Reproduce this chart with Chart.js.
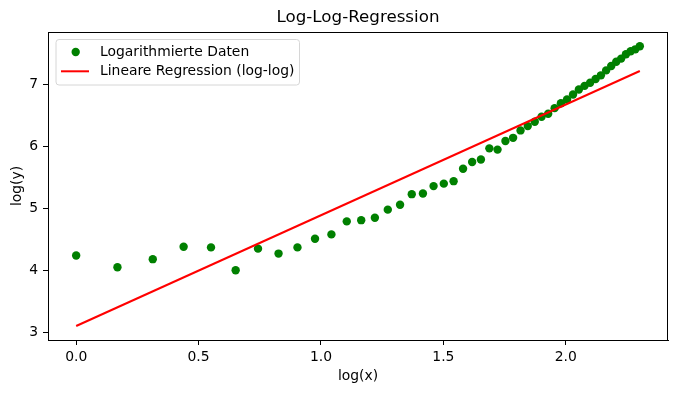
<!DOCTYPE html>
<html>
	<head>
		<meta charset="utf-8">
		<script src="https://cdn.jsdelivr.net/npm/chart.js@4.4.1/dist/chart.umd.min.js"></script>
		<style>
			html, body { margin: 0; padding: 0; background: #fff; }
			#container { width: 678px; height: 393px; }
		</style>
	</head>
	<body>
		<div id="container">
			<canvas id="myChart" width="678" height="393"></canvas>
		</div>
		<script>
			// log(x) values of the data
			var logX = [0, 0.1686, 0.3129, 0.4389, 0.5508, 0.6515, 0.7429, 0.8267, 0.9040, 0.9757,
				1.0427, 1.1054, 1.1644, 1.2202, 1.2730, 1.3231, 1.3709, 1.4165, 1.4600, 1.5018,
				1.5419, 1.5805, 1.6176, 1.6534, 1.6879, 1.7213, 1.7536, 1.7849, 1.8153, 1.8448,
				1.8734, 1.9012, 1.9283, 1.9546, 1.9803, 2.0053, 2.0298, 2.0536, 2.0769, 2.0996,
				2.1219, 2.1437, 2.1650, 2.1858, 2.2063, 2.2263, 2.2459, 2.2652, 2.2841, 2.3026];
			// log(y) values of the data
			var logY = [4.24, 4.05, 4.18, 4.38, 4.37, 4.00, 4.35, 4.27, 4.37, 4.51,
				4.58, 4.79, 4.81, 4.85, 4.98, 5.06, 5.23, 5.24, 5.36, 5.40,
				5.44, 5.64, 5.75, 5.79, 5.97, 5.95, 6.09, 6.14, 6.26, 6.33,
				6.40, 6.48, 6.53, 6.62, 6.70, 6.76, 6.84, 6.92, 6.98, 7.03,
				7.09, 7.15, 7.23, 7.30, 7.37, 7.42, 7.49, 7.54, 7.57, 7.62];
			// regression line end points
			var regX = [0, 2.3026];
			var regY = [3.10, 7.22];

			var xTicks = [0, 0.5, 1.0, 1.5, 2.0];
			var yTicks = [3, 4, 5, 6, 7];

			var FONT = "'DejaVu Sans', sans-serif";

			function toPoints(xs, ys) {
				var pts = [];
				for (var i = 0; i < xs.length; i++) pts.push({x: xs[i], y: ys[i]});
				return pts;
			}

			// frame, title, axis labels, legend (matplotlib look)
			var decorPlugin = {
				id: 'decor',
				afterDraw: function(chart) {
					var ctx = chart.ctx;
					var a = chart.chartArea;
					ctx.save();
					ctx.strokeStyle = '#000';
					ctx.lineWidth = 1;
					ctx.strokeRect(a.left + 0.5, a.top + 0.5, a.right - a.left - 1, a.bottom - a.top);

					ctx.fillStyle = '#000';
					ctx.textAlign = 'center';
					ctx.textBaseline = 'middle';
					ctx.font = '16.7px ' + FONT;
					ctx.fillText('Log-Log-Regression', (a.left + a.right) / 2, 18);

					ctx.font = '13.9px ' + FONT;
					ctx.fillText('log(x)', (a.left + a.right) / 2, 376);
					ctx.save();
					ctx.translate(17, (a.top + a.bottom) / 2);
					ctx.rotate(-Math.PI / 2);
					ctx.fillText('log(y)', 0, 0);
					ctx.restore();

					// legend
					var lx = 56, ly = 39.5, lw = 243.5, lh = 45.5;
					ctx.beginPath();
					ctx.roundRect(lx, ly, lw, lh, 3);
					ctx.fillStyle = 'rgba(255,255,255,0.8)';
					ctx.fill();
					ctx.strokeStyle = '#d6d6d6';
					ctx.stroke();

					var ds = chart.data.datasets;
					ctx.beginPath();
					ctx.arc(75.7, 52, 4.2, 0, Math.PI * 2);
					ctx.fillStyle = ds[0].backgroundColor;
					ctx.fill();

					ctx.beginPath();
					ctx.moveTo(61, 71.3);
					ctx.lineTo(89, 71.3);
					ctx.strokeStyle = ds[1].borderColor;
					ctx.lineWidth = 2;
					ctx.stroke();

					ctx.fillStyle = '#000';
					ctx.textAlign = 'left';
					ctx.fillText(ds[0].label, 100, 52);
					ctx.fillText(ds[1].label, 100, 71.3);
					ctx.restore();
				}
			};

			var ctx = document.getElementById('myChart').getContext('2d');
			var myChart = new Chart(ctx, {
				type: 'scatter',
				data: {
					datasets: [{
						label: 'Logarithmierte Daten',
						data: toPoints(logX, logY),
						backgroundColor: '#008000',
						borderWidth: 0,
						pointRadius: 4.2,
						order: 2
					}, {
						type: 'line',
						label: 'Lineare Regression (log-log)',
						data: toPoints(regX, regY),
						borderColor: '#ff0000',
						borderWidth: 2,
						pointRadius: 0,
						fill: false,
						order: 1
					}]
				},
				options: {
					responsive: false,
					animation: false,
					layout: { padding: { left: 0, right: 10, top: 32, bottom: 0 } },
					plugins: {
						legend: { display: false },
						title: { display: false },
						tooltip: { enabled: false }
					},
					scales: {
						x: {
							type: 'linear',
							min: -0.1151,
							max: 2.4177,
							afterBuildTicks: function(scale) {
								scale.ticks = xTicks.map(function(v) { return {value: v}; });
							},
							afterFit: function(scale) { scale.height = 53; },
							grid: { drawOnChartArea: false, drawTicks: true, tickLength: 5, color: '#000' },
							border: { display: true, color: '#000' },
							ticks: {
								color: '#000',
								padding: 4,
								font: { family: FONT, size: 13.9 },
								callback: function(v) { return v.toFixed(1); }
							}
						},
						y: {
							type: 'linear',
							min: 2.874,
							max: 7.85,
							afterBuildTicks: function(scale) {
								scale.ticks = yTicks.map(function(v) { return {value: v}; });
							},
							afterFit: function(scale) { scale.width = 48; },
							grid: { drawOnChartArea: false, drawTicks: true, tickLength: 5, color: '#000' },
							border: { display: true, color: '#000' },
							ticks: {
								color: '#000',
								padding: 5,
								font: { family: FONT, size: 13.9 },
								callback: function(v) { return String(v); }
							}
						}
					}
				},
				plugins: [decorPlugin]
			});
		</script>
	</body>
</html>
